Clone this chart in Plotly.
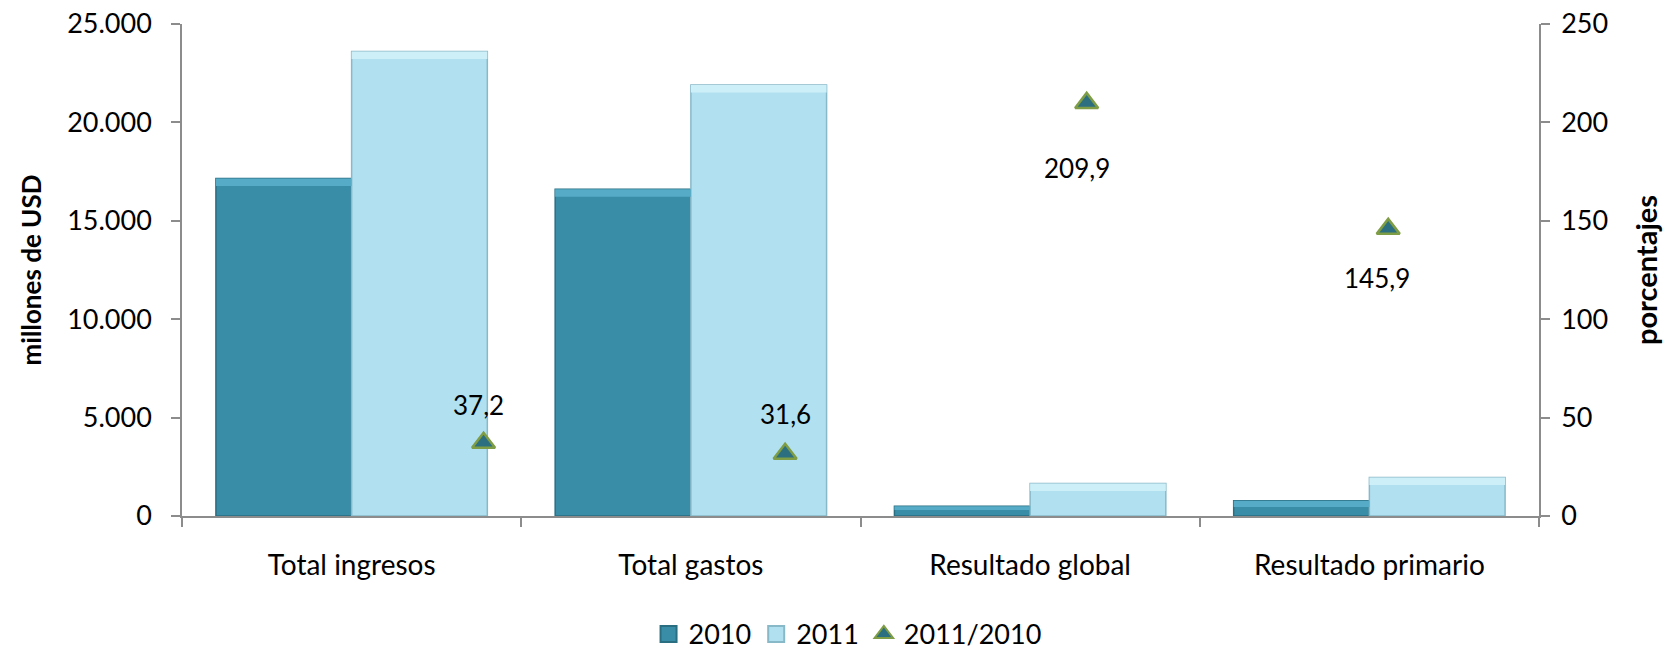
import plotly.graph_objects as go

# Datos
categorias = ["Total ingresos", "Total gastos", "Resultado global", "Resultado primario"]
valores_2010 = [17150, 16600, 500, 770]
valores_2011 = [23600, 21900, 1650, 1960]
variacion = [37.2, 31.6, 209.9, 145.9]
posicion_var = [1, 2, 3, 4]

FONT = "Lato, 'Open Sans', sans-serif"
AXIS_GRAY = "#8C8C8C"

# Colores de las series
C2010 = "#3A8DA6"
C2010_TOP = "#56ACC6"
C2010_EDGE = "#2A6E82"
C2011 = "#B1E1F0"
C2011_TOP = "#CDEFF8"
C2011_EDGE = "#88B9C8"
TRI_FILL = "#2C6F80"
TRI_EDGE = "#7E9D45"

fig = go.Figure()

# Barras principales
fig.add_trace(go.Bar(
    x=categorias, y=valores_2010, name="2010", offsetgroup="a", showlegend=False,
    marker=dict(color=C2010, line=dict(color=C2010_EDGE, width=1.5)),
))
fig.add_trace(go.Bar(
    x=categorias, y=valores_2011, name="2011", offsetgroup="b", showlegend=False,
    marker=dict(color=C2011, line=dict(color=C2011_EDGE, width=1.5)),
))

# Franja superior clara (efecto biselado)
def franja(vals):
    return [min(380, v * 0.4) for v in vals]

f10 = franja(valores_2010)
f11 = franja(valores_2011)
fig.add_trace(go.Bar(
    x=categorias, y=f10, base=[v - f for v, f in zip(valores_2010, f10)],
    offsetgroup="a", showlegend=False, hoverinfo="skip",
    marker=dict(color=C2010_TOP, line=dict(width=0)),
))
fig.add_trace(go.Bar(
    x=categorias, y=f11, base=[v - f for v, f in zip(valores_2011, f11)],
    offsetgroup="b", showlegend=False, hoverinfo="skip",
    marker=dict(color=C2011_TOP, line=dict(width=0)),
))

# Variación porcentual (eje secundario)
fig.add_trace(go.Scatter(
    x=posicion_var, y=variacion, name="2011/2010", mode="markers",
    xaxis="x2", yaxis="y2", showlegend=False,
    marker=dict(symbol="triangle-up", size=20, color=TRI_FILL,
                line=dict(color=TRI_EDGE, width=2.5)),
))

# Entradas de leyenda con símbolos más grandes
for nombre, simbolo, relleno, borde in [
    ("2010", "square", C2010, C2010_EDGE),
    ("2011", "square", C2011, C2011_EDGE),
    ("2011/2010", "triangle-up", TRI_FILL, TRI_EDGE),
]:
    fig.add_trace(go.Scatter(
        x=[None], y=[None], name=nombre, mode="markers",
        marker=dict(symbol=simbolo, size=18, color=relleno,
                    line=dict(color=borde, width=2)),
    ))

# Etiquetas de datos de la variación
desplaz = [(-5, 38), (0, 40), (-10, -65), (-11, -49)]
for xv, yv, (dx, dy) in zip(posicion_var, variacion, desplaz):
    fig.add_annotation(
        x=xv, y=yv, xref="x2", yref="y2", text=f"{yv:.1f}".replace(".", ","),
        showarrow=False, xshift=dx, yshift=dy,
        font=dict(family=FONT, size=26, color="#000000"),
    )

fig.update_layout(
    width=1675, height=652,
    margin=dict(l=182, r=136, t=24, b=136),
    paper_bgcolor="white", plot_bgcolor="white",
    separators=",.",
    barmode="group", bargap=0.2, bargroupgap=0,
    font=dict(family=FONT, size=26, color="#000000"),
    xaxis=dict(
        type="category", showline=True, linecolor=AXIS_GRAY, linewidth=1.5,
        ticks="outside", tickson="boundaries", ticklen=9, tickcolor=AXIS_GRAY,
        tickwidth=1.5, ticklabelstandoff=24, showgrid=False, automargin=False,
        tickfont=dict(size=28),
    ),
    xaxis2=dict(overlaying="x", range=[0, 4.5], visible=False),
    yaxis=dict(
        range=[0, 25000], dtick=5000, tickformat=",d", automargin=False,
        showline=True, linecolor=AXIS_GRAY, linewidth=1.5,
        ticks="outside", ticklen=9, tickcolor=AXIS_GRAY, tickwidth=1.5,
        showgrid=False, zeroline=False, ticklabelstandoff=14,
        title=dict(text="<b>millones de USD</b>", font=dict(size=26), standoff=18),
        tickfont=dict(size=27),
    ),
    yaxis2=dict(
        overlaying="y", side="right", range=[0, 250], dtick=50, automargin=False,
        showline=True, linecolor=AXIS_GRAY, linewidth=1.5,
        ticks="outside", ticklen=9, tickcolor=AXIS_GRAY, tickwidth=1.5,
        showgrid=False, zeroline=False, ticklabelstandoff=6,
        title=dict(text="<b>porcentajes</b>", font=dict(size=29), standoff=30),
        tickfont=dict(size=27),
    ),
    legend=dict(
        orientation="h", x=0.506, xref="container", xanchor="center",
        y=0.027, yref="container", yanchor="middle",
        font=dict(size=27), itemwidth=30, traceorder="normal",
        itemsizing="trace", bgcolor="rgba(0,0,0,0)",
    ),
    showlegend=True,
)

fig.write_html("out.html")
